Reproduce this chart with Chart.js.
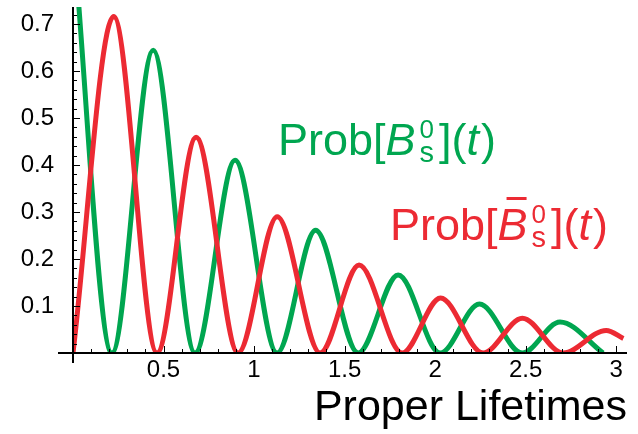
<!DOCTYPE html>
<html>
<head>
<meta charset="utf-8">
<script src="https://cdn.jsdelivr.net/npm/chart.js@4.4.1/dist/chart.umd.min.js"></script>
<style>
  html, body { margin: 0; padding: 0; background: #fff; }
  #wrap { width: 638px; height: 434px; }
</style>
</head>
<body>
<div id="wrap"><canvas id="oscChart"></canvas></div>
<script>
// values (proper lifetimes, probability)
const redT = [0, 0.225, 0.464, 0.68, 0.912, 1.128, 1.365, 1.58, 1.818, 2.03, 2.265, 2.482, 2.707, 2.945, 3.04];
const redP = [0, 0.716, 0, 0.459, 0, 0.29, 0, 0.187, 0, 0.117, 0, 0.074, 0, 0.048, 0.031];
const greenT = [0, 0.215, 0.443, 0.674, 0.895, 1.127, 1.34, 1.575, 1.796, 2.028, 2.245, 2.481, 2.69, 2.928];
const greenP = [0.89, 0, 0.644, 0, 0.41, 0, 0.261, 0, 0.166, 0, 0.104, 0, 0.066, 0];
const xTickLabels = ["0.5", "1", "1.5", "2", "2.5", "3"];
const yTickLabels = ["0.1", "0.2", "0.3", "0.4", "0.5", "0.6", "0.7"];

const GREEN = "#00a650";
const RED = "#ec2a33";
const FONT = '"Liberation Sans", Arial, Helvetica, sans-serif';

function toPoints(xs, ys) {
  return xs.map((x, i) => ({ x: x, y: ys[i] }));
}

// axes with inward ticks, crossing at the origin
const axesPlugin = {
  id: "axesPlugin",
  afterDatasetsDraw(chart) {
    const ctx = chart.ctx;
    const xs = chart.scales.x;
    const ys = chart.scales.y;
    const x0 = xs.getPixelForValue(0);
    const y0 = ys.getPixelForValue(0);
    ctx.save();
    ctx.strokeStyle = "#000";
    ctx.lineWidth = 2;
    ctx.beginPath();
    ctx.moveTo(x0 - 15, y0);
    ctx.lineTo(chart.chartArea.right, y0);
    ctx.moveTo(x0, chart.chartArea.top);
    ctx.lineTo(x0, y0 + 10);
    ctx.stroke();

    ctx.lineWidth = 1;
    ctx.beginPath();
    for (let i = 1; i <= 30; i++) {
      const px = Math.round(xs.getPixelForValue(i / 10)) + 0.5;
      const len = i % 5 === 0 ? 7 : 4;
      ctx.moveTo(px, y0);
      ctx.lineTo(px, y0 - len);
    }
    for (let i = 1; i <= 36; i++) {
      const py = Math.round(ys.getPixelForValue(i / 50)) + 0.5;
      const len = i % 5 === 0 ? 7 : 4;
      ctx.moveTo(x0, py);
      ctx.lineTo(x0 + len, py);
    }
    ctx.stroke();
    ctx.restore();
  },
};

// Prob[B_s^0](t) style labels
function drawLabel(ctx, x, y, color, bar) {
  const size = 45;
  ctx.save();
  ctx.fillStyle = color;
  ctx.textBaseline = "alphabetic";
  ctx.textAlign = "left";
  let cx = x;
  ctx.font = size + "px " + FONT;
  ctx.fillText("Prob[", cx, y);
  cx += ctx.measureText("Prob[").width;
  ctx.font = "italic " + size + "px " + FONT;
  ctx.fillText("B", cx, y);
  const bw = ctx.measureText("B").width;
  if (bar) {
    ctx.fillRect(cx + 9, y - 43, bw - 10, 3);
  }
  cx += bw + 4;
  ctx.font = "26px " + FONT;
  ctx.fillText("0", cx, y - 17);
  ctx.font = "29px " + FONT;
  ctx.fillText("s", cx, y + 7);
  cx += ctx.measureText("s").width + 5;
  ctx.font = size + "px " + FONT;
  ctx.fillText("](", cx, y);
  cx += ctx.measureText("](").width;
  ctx.font = "italic " + size + "px " + FONT;
  ctx.fillText("t", cx, y);
  cx += ctx.measureText("t").width + 2;
  ctx.font = size + "px " + FONT;
  ctx.fillText(")", cx, y);
  ctx.restore();
}

const labelsPlugin = {
  id: "labelsPlugin",
  afterDraw(chart) {
    drawLabel(chart.ctx, 278, 155, GREEN, false);
    drawLabel(chart.ctx, 390, 240, RED, true);
  },
};

const ctx = document.getElementById("oscChart").getContext("2d");

new Chart(ctx, {
  type: "line",
  data: {
    datasets: [
      {
        label: "Prob[anti-Bs0](t)",
        data: toPoints(redT, redP),
        borderColor: RED,
        borderWidth: 5,
        pointRadius: 0,
        fill: false,
        cubicInterpolationMode: "monotone",
      },
      {
        label: "Prob[Bs0](t)",
        data: toPoints(greenT, greenP),
        borderColor: GREEN,
        borderWidth: 5,
        pointRadius: 0,
        fill: false,
        cubicInterpolationMode: "monotone",
      },
    ],
  },
  options: {
    responsive: true,
    maintainAspectRatio: false,
    animation: false,
    layout: {
      padding: { top: 7, right: 11, left: 0, bottom: 0 },
    },
    plugins: {
      legend: { display: false },
      tooltip: { enabled: false },
    },
    scales: {
      x: {
        type: "linear",
        min: 0,
        max: 3.06,
        afterFit: (scale) => {
          scale.height = 81;
          scale.paddingLeft = 0;
          scale.paddingRight = 0;
        },
        afterBuildTicks: (scale) => {
          scale.ticks = xTickLabels.map((s) => ({ value: parseFloat(s) }));
        },
        grid: { display: false, drawTicks: false },
        border: { display: false },
        ticks: {
          padding: 3,
          color: "#000",
          font: { family: FONT, size: 24 },
          maxRotation: 0,
          callback: (v) => xTickLabels.find((s) => parseFloat(s) === v) || "",
        },
        title: {
          display: true,
          text: "Proper Lifetimes",
          align: "end",
          color: "#000",
          font: { family: FONT, size: 43 },
          padding: { top: 0, bottom: 0 },
        },
      },
      y: {
        type: "linear",
        min: 0,
        max: 0.736,
        afterFit: (scale) => {
          scale.width = 73;
          scale.paddingTop = 0;
          scale.paddingBottom = 0;
        },
        afterBuildTicks: (scale) => {
          scale.ticks = yTickLabels.map((s) => ({ value: parseFloat(s) }));
        },
        grid: { display: false, drawTicks: false },
        border: { display: false },
        ticks: {
          padding: 19,
          color: "#000",
          font: { family: FONT, size: 24 },
          callback: (v) => yTickLabels.find((s) => parseFloat(s) === v) || "",
        },
      },
    },
  },
  plugins: [axesPlugin, labelsPlugin],
});
</script>
</body>
</html>
